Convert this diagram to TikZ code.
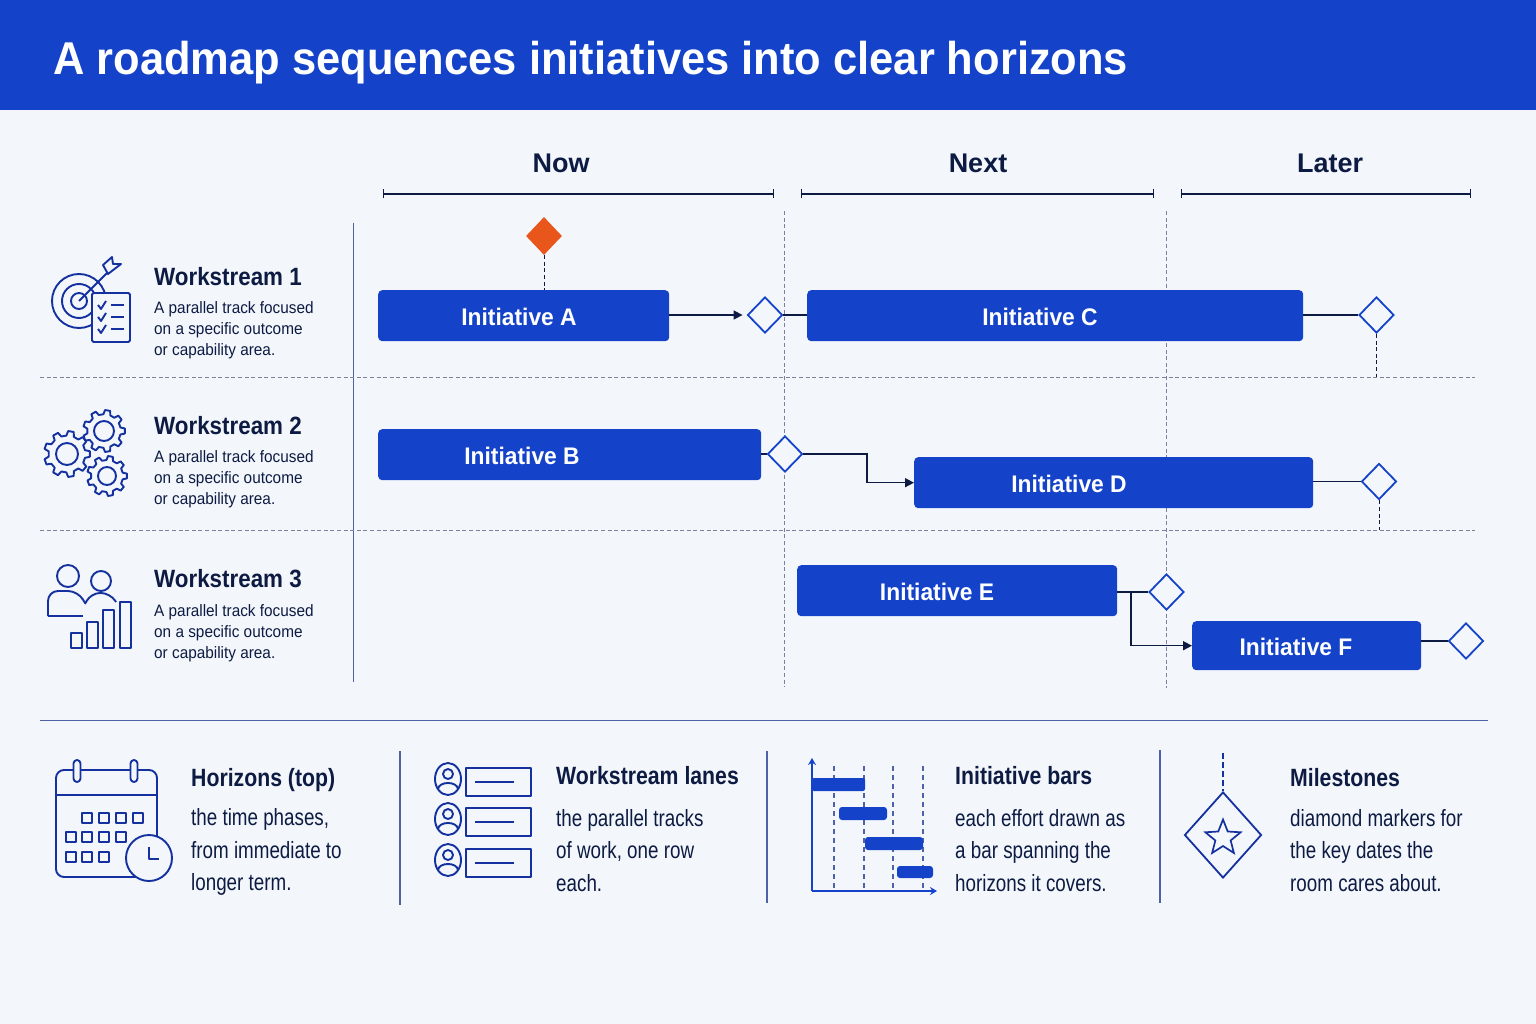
\documentclass[tikz,border=0pt]{standalone}
\usepackage{fontspec}
\setmainfont{Liberation Sans}
\newfontfamily\titlefont[FakeStretch=0.945]{Liberation Sans}
\newfontfamily\slimfont[FakeStretch=0.95]{Liberation Sans}
\newfontfamily\wsfont[FakeStretch=0.93]{Liberation Sans}
\newfontfamily\headfont[FakeStretch=0.895]{Liberation Sans}
\newfontfamily\keyheadfont[FakeStretch=0.85]{Liberation Sans}
\newfontfamily\keyfont[FakeStretch=0.80]{Liberation Sans}
\usetikzlibrary{arrows.meta,shapes.geometric}

\definecolor{pagebg}{HTML}{F3F7FC}
\definecolor{roadblue}{HTML}{1443C9}
\definecolor{roadnavy}{HTML}{0D1B42}
\definecolor{icondark}{HTML}{14319F}
\definecolor{guidegray}{HTML}{7A819C}
\definecolor{flagorange}{HTML}{E9561B}
\definecolor{softrule}{HTML}{4F62A8}

\tikzset{
	bar/.style={fill=roadblue, rounded corners=4pt, inner sep=0pt, anchor=north west},
	barlabel/.style={text=white, font=\slimfont\fontsize{24}{28}\selectfont\bfseries},
	milestone/.style={draw=roadblue, diamond, fill=pagebg, line width=1.8pt, inner sep=0pt, minimum width=35pt, minimum height=36pt},
	guide/.style={guidegray, line width=0.9pt, dash pattern=on 4pt off 2.6pt},
	link/.style={roadnavy, line width=1.5pt},
	linkarrow/.style={link, -{Triangle[length=9pt,width=9pt]}},
	horizon/.style={text=roadnavy, font=\fontsize{27}{30}\selectfont\bfseries},
	span/.style={roadnavy, line width=1.1pt, {|[width=9pt]}-{|[width=9pt]}},
	wstitle/.style={text=roadnavy, anchor=base west, inner sep=0pt, font=\headfont\fontsize{25}{28}\selectfont\bfseries},
	wstext/.style={text=roadnavy, anchor=west, inner sep=0pt, align=left, font=\wsfont\fontsize{16.5}{21}\selectfont},
	keytitle/.style={text=roadnavy, anchor=base west, inner sep=0pt, font=\keyheadfont\fontsize{25}{28}\selectfont\bfseries},
	keytext/.style={text=roadnavy, anchor=west, inner sep=0pt, align=left, font=\keyfont\fontsize{23.5}{32.5}\selectfont},
	iconline/.style={icondark, line width=1.9pt, line join=round},
	iconfill/.style={iconline, fill=pagebg},
}

% one cog: centre x, centre y, tooth radius, hole radius
\newcommand{\cogicon}[4]{
	\begin{scope}[shift={(#1,#2)}]
		\pgfmathsetmacro{\rootrad}{#3*0.8}
		\draw[iconfill] (-12:\rootrad) \foreach \a in {0,40,...,320} {
			-- (\a-12:\rootrad) -- (\a-7:#3) -- (\a+7:#3) -- (\a+12:\rootrad) -- (\a+28:\rootrad)} -- cycle;
		\draw[iconline] (0,0) circle (#4);
	\end{scope}
}

\begin{document}
\begin{tikzpicture}[x=1pt,y=-1pt]
	\useasboundingbox (0,0) rectangle (1536,1024);
	\fill[pagebg] (0,0) rectangle (1536,1024);
	\fill[roadblue] (0,0) rectangle (1536,110.5);
	\node[text=white, anchor=base west, inner sep=0pt, font=\titlefont\fontsize{46}{50}\selectfont\bfseries] (title) at (53,75) {A roadmap sequences initiatives into clear horizons};

	% horizons
	\node[horizon] (now) at (561,163) {Now};
	\node[horizon] (next) at (978,163) {Next};
	\node[horizon] (later) at (1330,163) {Later};
	\draw[span] (383,194) -- (774,194);
	\draw[span] (801,194) -- (1154,194);
	\draw[span] (1181,194) -- (1471,194);

	% lanes
	\draw[softrule, line width=1.1pt] (353.5,223) -- (353.5,682);
	\draw[guide] (40,377) -- (1475,377);
	\draw[guide] (40,530.5) -- (1475,530.5);
	\draw[guide] (784.5,211) -- (784.5,687);
	\draw[guide] (1166.5,211) -- (1166.5,688);

	% bars
	\node[bar, minimum width=291pt, minimum height=51pt] (barA) at (378,290) {};
	\node[bar, minimum width=383pt, minimum height=51pt] (barB) at (378,429) {};
	\node[bar, minimum width=496pt, minimum height=51pt] (barC) at (807,290) {};
	\node[bar, minimum width=399pt, minimum height=51pt] (barD) at (914,457) {};
	\node[bar, minimum width=320pt, minimum height=51pt] (barE) at (797,565) {};
	\node[bar, minimum width=229pt, minimum height=49pt] (barF) at (1192,621) {};
	\node[barlabel] (labA) at (519,316.5) {Initiative A};
	\node[barlabel] (labB) at (522,455.5) {Initiative B};
	\node[barlabel] (labC) at (1040,316.5) {Initiative C};
	\node[barlabel] (labD) at (1069,483.5) {Initiative D};
	\node[barlabel] (labE) at (937,591.5) {Initiative E};
	\node[barlabel] (labF) at (1296,646.5) {Initiative F};

	% milestones
	\node[diamond, fill=flagorange, inner sep=0pt, minimum width=36pt, minimum height=38pt] (flagA) at (544,236) {};
	\node[milestone] (mileA) at (765,315) {};
	\node[milestone] (mileC) at (1376.5,315) {};
	\node[milestone] (mileB) at (785,454) {};
	\node[milestone] (mileD) at (1379,481.5) {};
	\node[milestone] (mileE) at (1166.5,592) {};
	\node[milestone] (mileF) at (1466,641) {};
	\coordinate (dropC) at (1376.5,377);
	\coordinate (dropD) at (1379,530);
	\coordinate (elbowB) at (867,454);
	\coordinate (forkE) at (1131,592);

	% connectors
	\draw[guide, roadnavy] (flagA) -- (flagA |- barA.north);
	\draw[guide, roadnavy] (mileC.south) -- (dropC);
	\draw[guide, roadnavy] (mileD.south) -- (dropD);
	\draw[linkarrow] (barA.east |- mileA) -- ([xshift=-4pt]mileA.west);
	\draw[link] (mileA) -- (barC.west |- mileA);
	\draw[link] (barC.east |- mileC) -- (mileC);
	\draw[link] (barB.east |- mileB) -- (mileB);
	\draw[linkarrow] (mileB.east) -- (elbowB) |- (barD.west);
	\draw[link] (barD.east |- mileD) -- (mileD);
	\draw[link] (barE.east |- mileE) -- (mileE);
	\draw[linkarrow] (forkE) |- (barF.west);
	\draw[link] (barF.east |- mileF) -- (mileF);

	% workstream text
	\node[wstitle] (wsA) at (154,285) {Workstream 1};
	\node[wstitle] (wsB) at (154,434) {Workstream 2};
	\node[wstitle] (wsC) at (154,587) {Workstream 3};
	\node[wstext] (wsAtext) at (154,330.5) {A parallel track focused\\on a specific outcome\\or capability area.};
	\node[wstext] (wsBtext) at (154,479.5) {A parallel track focused\\on a specific outcome\\or capability area.};
	\node[wstext] (wsCtext) at (154,633.5) {A parallel track focused\\on a specific outcome\\or capability area.};

	% target and checklist
	\foreach \r in {27,17,8}
		\draw[iconline] (79,301) circle (\r);
	\draw[iconline] (79,301) -- (112,268);
	\draw[iconfill] (103,265) -- (112,257) -- (113,264) -- (121,264) -- (108,274) -- cycle;
	\draw[iconfill, rounded corners=1.5pt] (92,293) rectangle (130,342);
	\foreach \y in {305,317,329} {
		\draw[iconline] (98,\y) -- (101,\y+4) -- (106,\y-4);
		\draw[iconline] (111,\y) -- (124,\y);
	}

	% cogs
	\cogicon{67}{454}{23}{11}
	\cogicon{107}{476}{20}{9}
	\cogicon{104}{431}{21}{10}

	% people and columns
	\draw[iconline] (68,576) circle (11);
	\draw[iconline] (101,581) circle (10);
	\draw[iconline, rounded corners=10pt] (85,603) -- (78,591) -- (48,591) -- (48,616);
	\draw[iconline] (48,616) -- (83,616);
	\draw[iconline, rounded corners=9pt] (85,604) -- (91,593) -- (110,593) -- (116,602);
	\foreach \xa/\ya in {71/633,87/622,103/610,120/602}
		\draw[iconline] (\xa,\ya) rectangle (\xa+11,648);

	% key row
	\draw[softrule, line width=1.1pt] (40,720.5) -- (1488,720.5);
	\draw[softrule, line width=1.1pt] (400,751) -- (400,905);
	\draw[softrule, line width=1.1pt] (767,751) -- (767,903);
	\draw[softrule, line width=1.1pt] (1160,750) -- (1160,903);

	\node[keytitle] (keyA) at (191,786) {Horizons (top)};
	\node[keytitle] (keyB) at (556,784) {Workstream lanes};
	\node[keytitle] (keyC) at (955,784) {Initiative bars};
	\node[keytitle] (keyD) at (1290,786) {Milestones};
	\node[keytext] (keyAtext) at (191,852) {the time phases,\\from immediate to\\longer term.};
	\node[keytext] (keyBtext) at (556,850.5) {the parallel tracks\\of work, one row\\each.};
	\node[keytext] (keyCtext) at (955,850.5) {each effort drawn as\\a bar spanning the\\horizons it covers.};
	\node[keytext] (keyDtext) at (1290,850.5) {diamond markers for\\the key dates the\\room cares about.};

	% calendar
	\draw[iconline, rounded corners=8pt] (56,770) rectangle (157,877);
	\draw[iconline] (56,795) -- (157,795);
	\foreach \x in {77,134}
		\draw[iconfill, rounded corners=3.5pt] (\x-3.5,760) rectangle (\x+3.5,782);
	\foreach \x/\y in {87/818,104/818,121/818,138/818,71/837,87/837,104/837,121/837,71/857,87/857,104/857}
		\draw[iconline] (\x-5,\y-5) rectangle (\x+5,\y+5);
	\draw[iconfill] (149,858) circle (23);
	\draw[iconline] (149,847) -- (149,859) -- (159,859);

	% lane rows
	\foreach \y in {779,819,860} {
		\draw[iconline] (448,\y) ellipse (13 and 16);
		\draw[iconline] (448,\y-5) circle (5);
		\draw[iconline] (438,\y+10) .. controls (439,\y+2) and (457,\y+2) .. (458,\y+10);
		\draw[iconline] (466,\y-11) rectangle (531,\y+17);
		\draw[iconline] (475,\y+3) -- (514,\y+3);
	}

	% small gantt
	\foreach \x in {834,864,893,923}
		\draw[softrule, line width=1.1pt, dash pattern=on 5pt off 4pt] (\x,766) -- (\x,891);
	\draw[roadblue, line width=1.4pt, -{Stealth[length=7pt,width=8pt]}] (812,891) -- (812,758);
	\draw[roadblue, line width=1.4pt, -{Stealth[length=7pt,width=8pt]}] (812,891) -- (937,891);
	\fill[roadblue, rounded corners=2pt] (812,778) rectangle (865,791);
	\fill[roadblue, rounded corners=3pt] (839,807) rectangle (887,820);
	\fill[roadblue, rounded corners=3pt] (865,837) rectangle (923,850);
	\fill[roadblue, rounded corners=3pt] (897,866) rectangle (933,878);

	% diamond with star
	\node[draw=icondark, diamond, fill=pagebg, line width=1.8pt, inner sep=0pt, minimum width=77pt, minimum height=86pt] (keydiamond) at (1223,835) {};
	\node[draw=icondark, star, star points=5, star point ratio=2.3, line width=1.7pt, inner sep=0pt, minimum size=37pt] (keystar) at (1223,838) {};
	\coordinate (keytop) at (1223,753);
	\draw[icondark, line width=1.8pt, dash pattern=on 6pt off 3pt] (keytop) -- (keydiamond.north);
\end{tikzpicture}
\end{document}
